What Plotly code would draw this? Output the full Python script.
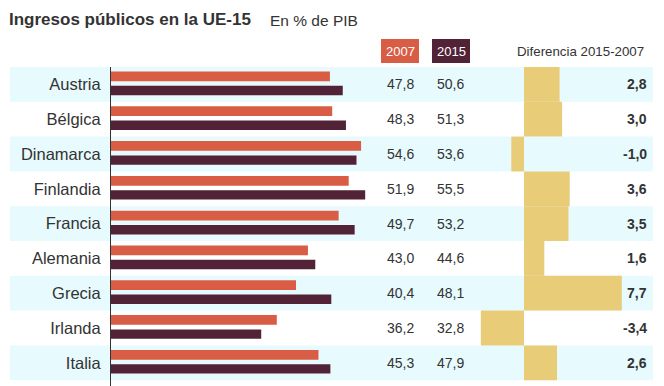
import plotly.graph_objects as go

countries = ["Austria", "Bélgica", "Dinamarca", "Finlandia", "Francia",
             "Alemania", "Grecia", "Irlanda", "Italia"]
v2007 = [47.8, 48.3, 54.6, 51.9, 49.7, 43.0, 40.4, 36.2, 45.3]
v2015 = [50.6, 51.3, 53.6, 55.5, 53.2, 44.6, 48.1, 32.8, 47.9]
diff = [2.8, 3.0, -1.0, 3.6, 3.5, 1.6, 7.7, -3.4, 2.6]

W, H = 664, 386
C07 = "#d95c45"
C15 = "#522236"
CDIF = "#e8cc78"
BAND = "#e7fafd"
TXT = "#333333"
NARROW = "Liberation Sans Narrow, Liberation Sans, Arial, sans-serif"
REG = "Liberation Sans, Arial, sans-serif"

def px(x):
    return x / W

def py(y):
    return 1 - y / H

def fmt(v):
    return f"{v:.1f}".replace(".", ",")

idx = list(range(len(countries)))
row_h = 34.8
top = 67
ybot = (H - top) / row_h - 0.5

fig = go.Figure()
fig.add_trace(go.Bar(orientation="h", y=idx, x=v2007, xaxis="x", yaxis="y",
                     marker=dict(color=C07, line=dict(width=0)),
                     width=0.28, offset=-0.37, hoverinfo="skip"))
fig.add_trace(go.Bar(orientation="h", y=idx, x=v2015, xaxis="x", yaxis="y",
                     marker=dict(color=C15, line=dict(width=0)),
                     width=0.27, offset=0.04, hoverinfo="skip"))
fig.add_trace(go.Bar(orientation="h", y=idx, x=diff, xaxis="x2", yaxis="y",
                     marker=dict(color=CDIF, line=dict(width=0)),
                     width=1.0, hoverinfo="skip"))

shapes = []
for i in idx:
    if i % 2 == 0:
        shapes.append(dict(type="rect", xref="paper", yref="y",
                           x0=px(10), x1=px(653), y0=i - 0.5, y1=i + 0.5,
                           fillcolor=BAND, line=dict(width=0), layer="below"))
# legend boxes
shapes.append(dict(type="rect", xref="paper", yref="paper", x0=px(381), x1=px(419),
                   y0=py(63), y1=py(39), fillcolor=C07, line=dict(width=0)))
shapes.append(dict(type="rect", xref="paper", yref="paper", x0=px(432), x1=px(470),
                   y0=py(63), y1=py(39), fillcolor=C15, line=dict(width=0)))

ann = []
ann.append(dict(text="<b>Ingresos públicos en la UE-15</b>", xref="paper", yref="paper",
                x=px(7), y=py(20), xanchor="left", yanchor="middle", showarrow=False,
                font=dict(family=NARROW, size=17, color=TXT)))
ann.append(dict(text="En % de PIB", xref="paper", yref="paper",
                x=px(268), y=py(21), xanchor="left", yanchor="middle", showarrow=False,
                font=dict(family=REG, size=15.5, color=TXT)))
ann.append(dict(text="2007", xref="paper", yref="paper", x=px(400), y=py(51),
                xanchor="center", yanchor="middle", showarrow=False,
                font=dict(family=NARROW, size=13, color="white")))
ann.append(dict(text="2015", xref="paper", yref="paper", x=px(451), y=py(51),
                xanchor="center", yanchor="middle", showarrow=False,
                font=dict(family=NARROW, size=13, color="white")))
ann.append(dict(text="Diferencia 2015-2007", xref="paper", yref="paper", x=px(580), y=py(51),
                xanchor="center", yanchor="middle", showarrow=False,
                font=dict(family=NARROW, size=13.3, color=TXT)))
for i in idx:
    ann.append(dict(text=fmt(v2007[i]), xref="paper", yref="y", x=px(400), y=i,
                    xanchor="center", yanchor="middle", showarrow=False,
                    font=dict(family=NARROW, size=14, color=TXT)))
    ann.append(dict(text=fmt(v2015[i]), xref="paper", yref="y", x=px(450), y=i,
                    xanchor="center", yanchor="middle", showarrow=False,
                    font=dict(family=NARROW, size=14, color=TXT)))
    ann.append(dict(text="<b>" + fmt(diff[i]) + "</b>", xref="paper", yref="y", x=px(649), y=i,
                    xanchor="right", yanchor="middle", showarrow=False,
                    font=dict(family=NARROW, size=14, color=TXT)))

fig.update_layout(
    width=W, height=H, margin=dict(l=0, r=0, t=0, b=0),
    paper_bgcolor="white", plot_bgcolor="rgba(0,0,0,0)",
    barmode="overlay", showlegend=False,
    shapes=shapes, annotations=ann,
    xaxis=dict(domain=[px(111), px(380)], range=[0, (380 - 111) / 4.58],
               visible=False, fixedrange=True, anchor="y"),
    xaxis2=dict(domain=[px(478), px(653)], range=[-(524 - 478) / 12.7, (653 - 524) / 12.7],
                visible=False, fixedrange=True, anchor="y"),
    yaxis=dict(domain=[0, py(top)], range=[ybot, -0.5], anchor="x",
               tickvals=idx, ticktext=countries, ticks="", ticklabelstandoff=6,
               showline=True, linecolor=TXT, linewidth=1, showgrid=False, zeroline=False,
               tickfont=dict(family=REG, size=16.5, color=TXT), fixedrange=True),
)

fig.write_html("out.html", config={"displayModeBar": False},
               post_script="document.body.style.margin='0';document.body.style.padding='0';")
